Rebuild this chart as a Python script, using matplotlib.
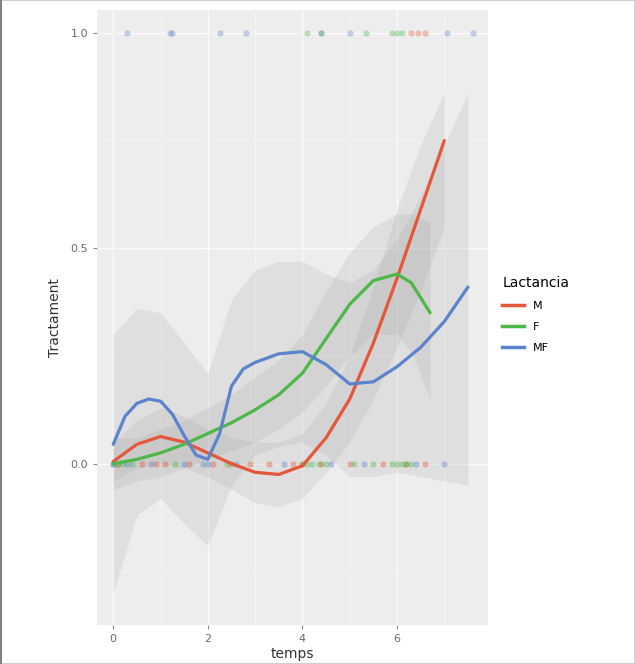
import matplotlib.pyplot as plt
from matplotlib.lines import Line2D
from matplotlib.patches import Rectangle

# curvas suavizadas
m_x = [0, 0.5, 1, 1.5, 2, 2.5, 3, 3.5, 4, 4.5, 5, 5.5, 6, 6.5, 7]
m_y = [0.005, 0.045, 0.063, 0.05, 0.025, 0.0, -0.02, -0.025, -0.005, 0.06, 0.15, 0.28, 0.43, 0.59, 0.75]
m_lo = [-0.04, -0.01, 0.0, -0.01, -0.03, -0.06, -0.09, -0.1, -0.08, -0.02, 0.05, 0.15, 0.27, 0.40, 0.55]
m_hi = [0.05, 0.10, 0.13, 0.11, 0.08, 0.06, 0.05, 0.05, 0.07, 0.14, 0.25, 0.41, 0.59, 0.74, 0.86]

f_x = [0, 0.5, 1, 1.5, 2, 2.5, 3, 3.5, 4, 4.5, 5, 5.5, 6, 6.3, 6.7]
f_y = [0.0, 0.01, 0.025, 0.045, 0.07, 0.095, 0.125, 0.16, 0.21, 0.29, 0.37, 0.425, 0.44, 0.42, 0.35]
f_lo = [-0.06, -0.04, -0.03, -0.01, 0.01, 0.03, 0.05, 0.08, 0.12, 0.18, 0.25, 0.30, 0.30, 0.26, 0.15]
f_hi = [0.06, 0.06, 0.08, 0.10, 0.13, 0.16, 0.20, 0.24, 0.30, 0.40, 0.49, 0.55, 0.58, 0.58, 0.56]

mf_x = [0, 0.25, 0.5, 0.75, 1, 1.25, 1.5, 1.75, 2, 2.25, 2.5, 2.75, 3, 3.5, 4, 4.5, 5, 5.5, 6, 6.5, 7, 7.5]
mf_y = [0.045, 0.11, 0.14, 0.15, 0.145, 0.115, 0.065, 0.02, 0.01, 0.07, 0.18, 0.22, 0.235, 0.255, 0.26, 0.23,
        0.185, 0.19, 0.225, 0.27, 0.33, 0.41]
mf_bx = [0, 0.5, 1, 1.5, 2, 2.5, 3, 3.5, 4, 4.5, 5, 5.5, 6, 6.5, 7, 7.5]
mf_lo = [-0.30, -0.12, -0.08, -0.14, -0.19, -0.05, 0.02, 0.04, 0.05, 0.02, -0.03, -0.03, -0.02, -0.03, -0.04, -0.05]
mf_hi = [0.30, 0.36, 0.35, 0.28, 0.21, 0.38, 0.45, 0.47, 0.47, 0.44, 0.42, 0.45, 0.52, 0.62, 0.74, 0.86]

# observaciones (Tractament 0 / 1)
m_pts0 = [0.1, 0.6, 0.9, 1.1, 1.6, 2.1, 2.5, 2.9, 3.3, 3.8, 4.0, 4.4, 5.0, 5.7, 6.2, 6.6]
m_pts1 = [6.3, 6.45, 6.6]
f_pts0 = [0.0, 0.1, 0.2, 0.4, 1.3, 2.4, 4.0, 4.1, 4.2, 4.35, 4.5, 5.1, 5.5, 5.9, 6.0, 6.1, 6.2, 6.3]
f_pts1 = [4.1, 4.4, 5.35, 5.9, 6.0, 6.1]
mf_pts0 = [0.0, 0.3, 0.8, 1.5, 1.9, 2.0, 2.6, 3.6, 4.6, 5.3, 6.4, 7.0]
mf_pts1 = [0.3, 1.2, 1.25, 2.25, 2.8, 4.4, 5.0, 7.05, 7.6]

grupos = ['M', 'F', 'MF']
colores = ['#E4573A', '#4DB848', '#5C84CC']

fig = plt.figure(figsize=(6.35, 6.64), dpi=100)
ax = fig.add_axes([0.153, 0.059, 0.616, 0.926])
ax.set_facecolor('#EDEDED')

# bandas de confianza
for bx, lo, hi in [(m_x, m_lo, m_hi), (f_x, f_lo, f_hi), (mf_bx, mf_lo, mf_hi)]:
    ax.fill_between(bx, lo, hi, color='#A0A0A0', alpha=0.18, lw=0, zorder=2)

# puntos
for pts0, pts1, c in [(m_pts0, m_pts1, colores[0]), (f_pts0, f_pts1, colores[1]),
                      (mf_pts0, mf_pts1, colores[2])]:
    ax.scatter(pts0, [0] * len(pts0), s=20, color=c, alpha=0.4, lw=0, zorder=3)
    ax.scatter(pts1, [1] * len(pts1), s=20, color=c, alpha=0.35, lw=0, zorder=3)

# curvas
ax.plot(m_x, m_y, color=colores[0], lw=2.3, zorder=4, solid_capstyle='round')
ax.plot(f_x, f_y, color=colores[1], lw=2.3, zorder=4, solid_capstyle='round')
ax.plot(mf_x, mf_y, color=colores[2], lw=2.3, zorder=4, solid_capstyle='round')

ax.set_xlim(-0.34, 7.93)
ax.set_ylim(-0.374, 1.053)
ax.set_xticks([0, 2, 4, 6])
ax.set_yticks([0.0, 0.5, 1.0])
ax.set_yticklabels(['0.0', '0.5', '1.0'])
ax.set_xticks([1, 3, 5, 7], minor=True)
ax.set_yticks([-0.25, 0.25, 0.75], minor=True)
ax.grid(True, which='major', color='#FAFAFA', lw=1.0, zorder=1)
ax.grid(True, which='minor', color='#F7F7F7', lw=0.5, zorder=1)
ax.set_axisbelow(True)
for s in ax.spines.values():
    s.set_visible(False)
ax.tick_params(which='major', colors='#8A8A8A', labelcolor='#6A6A6A', labelsize=8, length=3)
ax.tick_params(which='minor', length=0)
ax.set_xlabel('temps', fontsize=10, color='#333333', labelpad=2)
ax.set_ylabel('Tractament', fontsize=10, color='#333333', labelpad=6)

handles = [Line2D([], [], color=c, lw=2.5) for c in colores]
leg = fig.legend(handles, grupos, title='Lactancia', loc='upper left',
                 bbox_to_anchor=(0.775, 0.6), frameon=False, fontsize=8,
                 title_fontsize=10, handlelength=2.0, labelspacing=1.0)
leg._legend_box.align = 'left'

# marco de la imagen
fig.patches.append(Rectangle((0, 0), 1, 1, transform=fig.transFigure, fill=False,
                             edgecolor='#D0D0D0', lw=1.5))
fig.add_artist(Line2D([0.002, 0.002], [0, 1], color='#808080', lw=1.5, transform=fig.transFigure))

fig.savefig('out.png')
